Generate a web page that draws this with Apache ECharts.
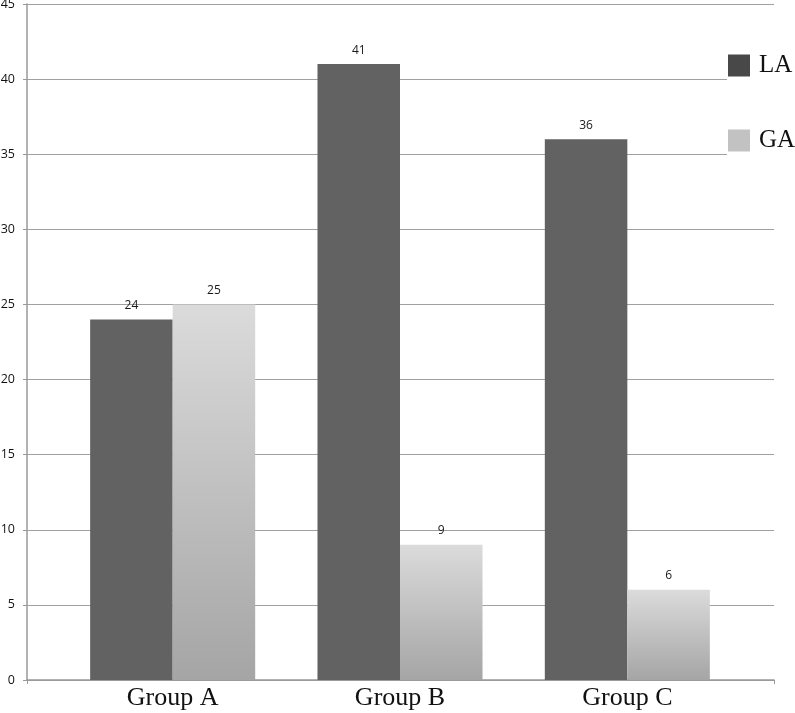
<!DOCTYPE html>
<html>
<head>
<meta charset="utf-8">
<script src="https://cdn.jsdelivr.net/npm/echarts@6/dist/echarts.min.js"></script>
<style>html,body{margin:0;padding:0;background:#fff;}#c{width:795px;height:713px;}</style>
</head>
<body>
<div id="c"></div>
<script>
var categories = ['Group A', 'Group B', 'Group C'];
var seriesNames = ['LA', 'GA'];
var laValues = [24, 41, 36];
var gaValues = [25, 9, 6];
var yMin = 0, yMax = 45, yStep = 5;

var chart = echarts.init(document.getElementById('c'), null, {renderer: 'canvas'});
var labelStyle = {show: true, position: 'top', distance: 8, color: '#1a1a1a', fontFamily: 'Open Sans', fontSize: 12};
chart.setOption({
  animation: false,
  backgroundColor: '#fff',
  grid: [
    {left: 27, right: 21, top: 4, bottom: 33, containLabel: false, outerBoundsMode: 'none'},
    {left: 59, right: 54, top: 4, bottom: 33, containLabel: false, outerBoundsMode: 'none'}
  ],
  xAxis: [
    {gridIndex: 0, type: 'value', min: 0, max: 1, interval: 1,
     axisLine: {show: true, lineStyle: {color: '#999', width: 1.5}},
     axisTick: {show: true, length: 4, inside: false, lineStyle: {color: '#999'}},
     axisLabel: {show: false}, splitLine: {show: false}},
    {gridIndex: 1, type: 'category', data: categories,
     axisLine: {show: false}, axisTick: {show: false},
     axisLabel: {color: '#111', fontFamily: 'Liberation Serif', fontSize: 26, margin: 5}}
  ],
  yAxis: [
    {gridIndex: 0, type: 'value', min: yMin, max: yMax, interval: yStep,
     axisLine: {show: true, lineStyle: {color: '#999', width: 1.5}},
     axisTick: {show: true, length: 4, lineStyle: {color: '#999'}},
     axisLabel: {color: '#111', fontFamily: 'Open Sans', fontSize: 12.5, margin: 12, padding: [3, 0, 0, 0]},
     splitLine: {show: true, lineStyle: {color: '#a0a0a0', width: 1.2}}},
    {gridIndex: 1, type: 'value', min: yMin, max: yMax, interval: yStep, show: false,
     splitLine: {show: false}}
  ],
  legend: {
    orient: 'vertical', left: 727, top: 33,
    padding: [20, 8, 10, 1],
    backgroundColor: '#fff',
    itemWidth: 22, itemHeight: 22, itemGap: 50,
    icon: 'rect',
    textStyle: {color: '#111', fontFamily: 'Liberation Serif', fontSize: 25, padding: [0, 0, 0, 4]},
    data: [
      {name: seriesNames[0], itemStyle: {color: '#484848'}},
      {name: seriesNames[1], itemStyle: {color: '#c2c2c2'}}
    ]
  },
  series: [
    {name: seriesNames[0], type: 'bar', xAxisIndex: 1, yAxisIndex: 1, data: laValues,
     barGap: '0%', barCategoryGap: '27.4%',
     itemStyle: {color: '#626262'}, label: labelStyle},
    {name: seriesNames[1], type: 'bar', xAxisIndex: 1, yAxisIndex: 1, data: gaValues,
     barGap: '0%', barCategoryGap: '27.4%',
     itemStyle: {color: new echarts.graphic.LinearGradient(0, 0, 0, 1, [
       {offset: 0, color: '#dbdbdb'}, {offset: 1, color: '#a5a5a5'}])},
     label: labelStyle}
  ]
});
</script>
</body>
</html>
